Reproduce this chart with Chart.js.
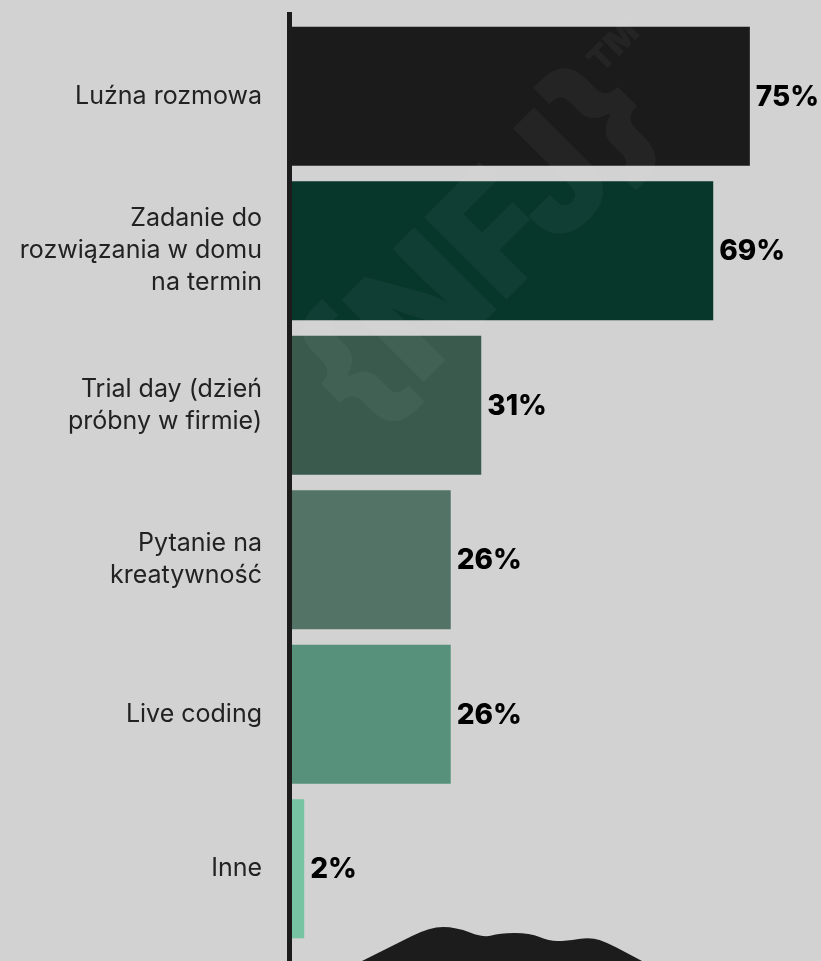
<!DOCTYPE html>
<html>
<head>
<meta charset="utf-8">
<script src="https://cdn.jsdelivr.net/npm/chart.js@4/dist/chart.umd.min.js"></script>
<style>
  html, body { margin: 0; padding: 0; background: #d2d2d2; }
  #wrap { width: 821px; height: 961px; position: relative; }
</style>
</head>
<body>
<div id="wrap"><canvas id="c" width="821" height="961"></canvas></div>
<script>
// Forms of recruitment tasks (share of answers, %)
const categories = [
  'Luźna rozmowa',
  ['Zadanie do', 'rozwiązania w domu', 'na termin'],
  ['Trial day (dzień', 'próbny w firmie)'],
  ['Pytanie na', 'kreatywność'],
  'Live coding',
  'Inne'
];
const shares = [75, 69, 31, 26, 26, 2];
const barColors = ['#1b1b1b', '#07362b', '#3a5a4e', '#527366', '#57917b', '#76c4a2'];
const valueSuffix = '%';

const BG = '#d2d2d2';
const INK = '#1c1c1c';

// page background
const backgroundPlugin = {
  id: 'background',
  beforeDraw(chart) {
    const ctx = chart.ctx;
    ctx.save();
    ctx.fillStyle = BG;
    ctx.fillRect(0, 0, chart.width, chart.height);
    ctx.restore();
  }
};

// thick vertical baseline at the value axis origin
const baselinePlugin = {
  id: 'baseline',
  afterDatasetsDraw(chart) {
    const ctx = chart.ctx;
    const x0 = chart.scales.x.getPixelForValue(0);
    ctx.save();
    ctx.fillStyle = INK;
    ctx.fillRect(x0 - 5, 12, 5, chart.height - 12);
    ctx.restore();
  }
};

// faint brand watermark laid over the bars
const watermarkPlugin = {
  id: 'watermark',
  afterDatasetsDraw(chart) {
    const ctx = chart.ctx;
    ctx.save();
    ctx.fillStyle = 'rgba(255,255,255,0.045)';
    ctx.translate(486, 252);
    ctx.rotate(-Math.PI / 4);
    ctx.font = '900 160px Inter';
    const w = ctx.measureText('{NFJ}').width;
    const s = 440 / w;
    ctx.scale(s, 1);
    ctx.textAlign = 'center';
    ctx.textBaseline = 'middle';
    ctx.fillText('{NFJ}', 0, 0);
    ctx.restore();
    ctx.save();
    ctx.fillStyle = 'rgba(255,255,255,0.045)';
    ctx.translate(614, 47);
    ctx.rotate(-Math.PI / 4);
    ctx.font = '900 34px Inter';
    ctx.textAlign = 'center';
    ctx.textBaseline = 'middle';
    ctx.fillText('TM', 0, 0);
    ctx.restore();
  }
};

// value labels to the right of each bar
const valueLabelPlugin = {
  id: 'valueLabels',
  afterDatasetsDraw(chart) {
    const ctx = chart.ctx;
    const meta = chart.getDatasetMeta(0);
    ctx.save();
    ctx.fillStyle = '#000000';
    ctx.font = '800 28px Inter';
    ctx.textAlign = 'left';
    ctx.textBaseline = 'middle';
    meta.data.forEach((bar, i) => {
      const v = chart.data.datasets[0].data[i];
      ctx.fillText(v + valueSuffix, bar.x + 6, bar.y + 1);
    });
    ctx.restore();
  }
};

// dark silhouette peeking in at the bottom edge
const silhouettePlugin = {
  id: 'silhouette',
  afterDraw(chart) {
    const ctx = chart.ctx;
    const pts = [
      [362, 961], [394, 945], [430, 927], [456, 927], [484, 938],
      [499, 933], [530, 933], [549, 941], [566, 941], [591, 937],
      [608, 943], [625, 952], [642, 961]
    ];
    ctx.save();
    ctx.fillStyle = INK;
    ctx.beginPath();
    ctx.moveTo(pts[0][0], pts[0][1]);
    for (let i = 1; i < pts.length - 1; i++) {
      const mx = (pts[i][0] + pts[i + 1][0]) / 2;
      const my = (pts[i][1] + pts[i + 1][1]) / 2;
      ctx.quadraticCurveTo(pts[i][0], pts[i][1], mx, my);
    }
    ctx.lineTo(pts[pts.length - 1][0], pts[pts.length - 1][1]);
    ctx.closePath();
    ctx.fill();
    ctx.restore();
  }
};

new Chart(document.getElementById('c'), {
  type: 'bar',
  data: {
    labels: categories,
    datasets: [{
      data: shares,
      backgroundColor: barColors,
      borderWidth: 0,
      barPercentage: 0.9,
      categoryPercentage: 1.0
    }]
  },
  options: {
    indexAxis: 'y',
    responsive: false,
    animation: false,
    layout: { padding: { top: 19, bottom: 15, left: 0, right: 4 } },
    plugins: {
      legend: { display: false },
      tooltip: { enabled: false },
      title: { display: false }
    },
    scales: {
      x: {
        type: 'linear',
        min: 0,
        max: 86,
        display: false
      },
      y: {
        afterFit(scale) {
          scale.width = 292;
          scale.paddingTop = 0;
          scale.paddingBottom = 0;
        },
        grid: { display: false, drawTicks: false },
        border: { display: false },
        ticks: {
          color: '#222222',
          padding: 30,
          font: { family: 'Inter', size: 25, lineHeight: 1.28 }
        }
      }
    }
  },
  plugins: [backgroundPlugin, watermarkPlugin, baselinePlugin, valueLabelPlugin, silhouettePlugin]
});
</script>
</body>
</html>
